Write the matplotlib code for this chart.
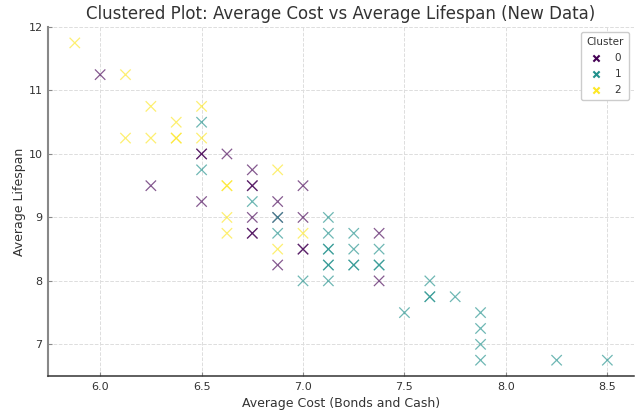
import matplotlib
matplotlib.use("Agg")
import matplotlib.pyplot as plt
import numpy as np

avg_cost = [
    # cluster 2 (yellow)
    5.875, 6.125, 6.25, 6.5, 6.375, 6.125, 6.25, 6.375, 6.375, 6.5, 6.875, 6.625, 6.625, 6.625, 6.625, 6.875, 7.0,
    # cluster 0 (purple)
    6.0, 6.5, 6.5, 6.625, 6.75, 6.25, 6.75, 6.75, 7.0, 6.5, 6.875, 6.75, 7.0, 6.75, 6.75, 6.875, 7.0, 7.0, 7.375, 7.375, 6.875,
    # cluster 1 (teal)
    6.5, 6.5, 6.75, 6.875, 7.125, 6.875, 7.125, 7.25, 7.125, 7.125, 7.25, 7.375, 7.125, 7.125, 7.25, 7.25, 7.375, 7.375,
    7.0, 7.125, 7.625, 7.625, 7.625, 7.75, 7.5, 7.875, 7.875, 7.875, 7.875, 8.25, 8.5,
]
avg_life = [
    11.75, 11.25, 10.75, 10.75, 10.5, 10.25, 10.25, 10.25, 10.25, 10.25, 9.75, 9.5, 9.5, 9.0, 8.75, 8.5, 8.75,
    11.25, 10.0, 10.0, 10.0, 9.75, 9.5, 9.5, 9.5, 9.5, 9.25, 9.25, 9.0, 9.0, 8.75, 8.75, 8.25, 8.5, 8.5, 8.75, 8.0, 9.0,
    10.5, 9.75, 9.25, 9.0, 9.0, 8.75, 8.75, 8.75, 8.5, 8.5, 8.5, 8.5, 8.25, 8.25, 8.25, 8.25, 8.25, 8.25,
    8.0, 8.0, 8.0, 7.75, 7.75, 7.75, 7.5, 7.5, 7.25, 7.0, 6.75, 6.75, 6.75,
]
cluster = [2] * 17 + [0] * 21 + [1] * 31

cluster_labels = ["0", "1", "2"]

fig = plt.figure(figsize=(6.42, 4.16), dpi=100)
ax = fig.add_axes([0.075, 0.096, 0.9125, 0.839])

sc = ax.scatter(avg_cost, avg_life, c=cluster, cmap="viridis", marker="x",
                s=56, linewidths=0.9, alpha=0.65)

ax.set_title("Clustered Plot: Average Cost vs Average Lifespan (New Data)",
             fontsize=12, color="#333333", pad=6)
ax.set_xlabel("Average Cost (Bonds and Cash)", fontsize=9, color="#333333", labelpad=4)
ax.set_ylabel("Average Lifespan", fontsize=9, color="#333333", labelpad=2)

ax.grid(True, linestyle="--", color="#dddddd", linewidth=0.7)
ax.set_axisbelow(True)
for side in ["top", "right"]:
    ax.spines[side].set_visible(False)
ax.spines["left"].set_color("#888888")
ax.spines["left"].set_linewidth(1.5)
ax.spines["bottom"].set_color("#333333")
ax.spines["bottom"].set_linewidth(1.1)
ax.tick_params(axis="both", direction="in", colors="#888888", labelcolor="#333333",
               labelsize=8, length=3, width=0.8, pad=4)

cmap = plt.get_cmap("viridis")
handles = []
for i, lab in enumerate(cluster_labels):
    h = ax.scatter([], [], color=cmap(i / 2), marker="x", s=20, linewidths=1.5)
    handles.append(h)
leg = ax.legend(handles, cluster_labels, title="Cluster", loc="upper right",
                fontsize=7.5, title_fontsize=7.5, markerfirst=True,
                handletextpad=1.0, handlelength=1.5, borderpad=0.5,
                labelspacing=0.55, framealpha=1, borderaxespad=0.5)
leg.get_frame().set_edgecolor("#cccccc")
for t in leg.get_texts():
    t.set_color("#333333")
leg.get_title().set_color("#333333")

fig.savefig("out.png", dpi=100)
